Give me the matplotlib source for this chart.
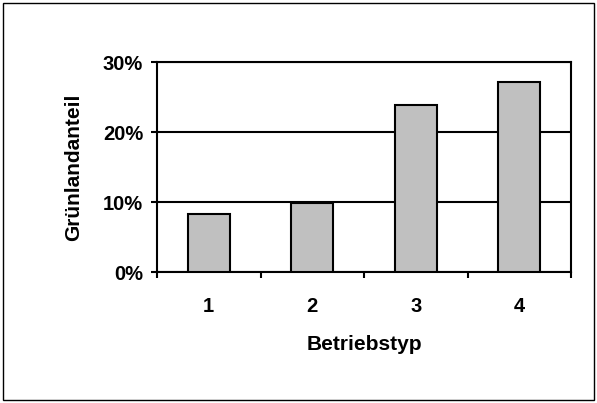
import matplotlib.pyplot as plt
from matplotlib.patches import Rectangle
from matplotlib.ticker import FuncFormatter

categories = ["1", "2", "3", "4"]
values = [8.3, 9.9, 23.9, 27.2]

plt.rcParams['font.family'] = ['Liberation Sans', 'DejaVu Sans']
plt.rcParams['font.weight'] = 'bold'

fig = plt.figure(figsize=(5.97, 4.03), dpi=100)
ax = fig.add_axes([157/597, 1 - 272/403, (571-157)/597, (272-62)/403])

x = range(len(categories))
ax.bar(x, values, width=0.41, color='#c0c0c0', edgecolor='black', linewidth=1.5, zorder=3)

ax.set_xlim(-0.5, len(categories) - 0.5)
ax.set_ylim(0, 30)
ax.set_yticks([0, 10, 20, 30])
ax.yaxis.set_major_formatter(FuncFormatter(lambda v, p: f"{v:.0f}%"))
ax.set_xticks(list(x))
ax.set_xticklabels(categories)
ax.set_xticks([i - 0.5 for i in range(len(categories) + 1)], minor=True)
ax.tick_params(axis='x', which='major', length=0, pad=18, labelsize=14.5)
ax.tick_params(axis='x', which='minor', length=4, width=1.5, direction='out')
ax.tick_params(axis='y', length=4, width=1.5, direction='out', labelsize=14.5, pad=6)

ax.grid(axis='y', color='black', linewidth=1.5, zorder=1)
for s in ax.spines.values():
    s.set_linewidth(1.5)

ax.set_xlabel("Betriebstyp", fontsize=15, fontweight='bold', labelpad=14)
ax.set_ylabel("Grünlandanteil", fontsize=15, fontweight='bold', labelpad=14)

fig.patches.append(Rectangle((3/597, 3/403), 591/597, 397/403, transform=fig.transFigure,
                             fill=False, edgecolor='black', linewidth=1))

fig.savefig("out.png", dpi=100)
